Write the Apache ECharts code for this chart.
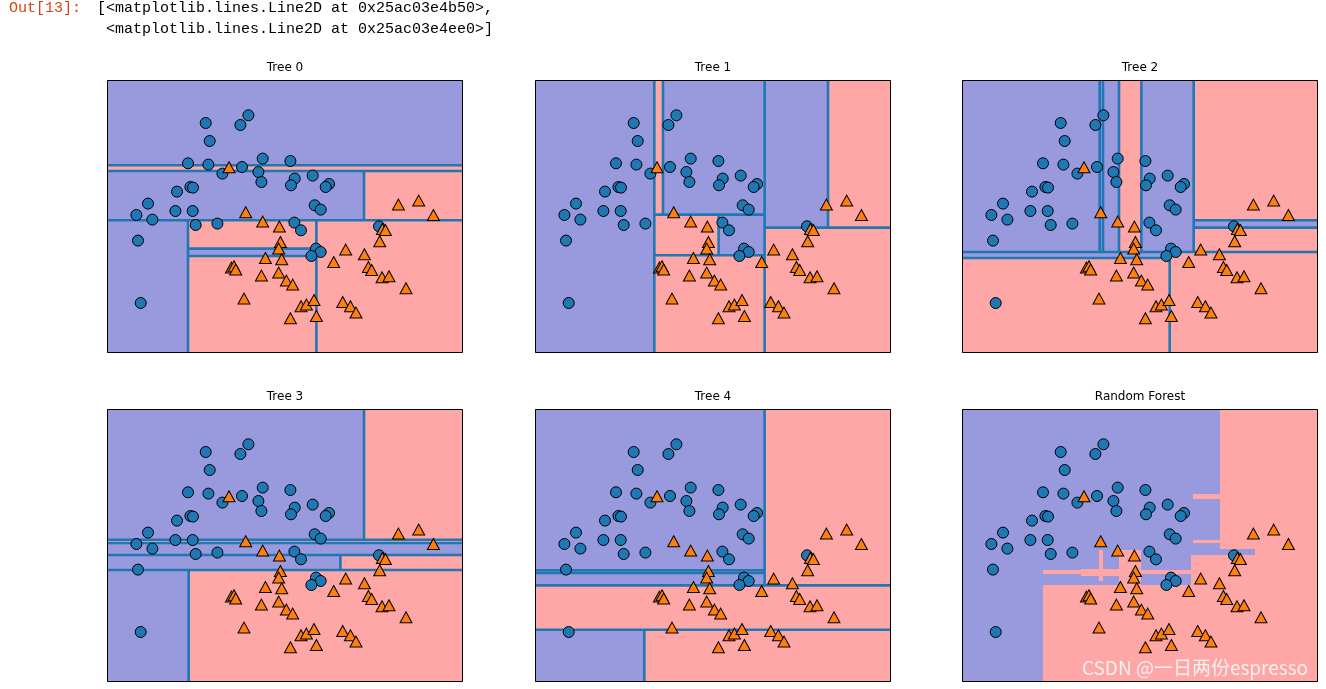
<!DOCTYPE html>
<html><head><meta charset="utf-8">
<script src="https://cdn.jsdelivr.net/npm/echarts@6/dist/echarts.min.js"></script>
<style>html,body{margin:0;padding:0;background:#fff}#c{width:1326px;height:689px}</style>
</head><body><div id="c"></div><script>
// Training points (panel data units: x 0..356, y 0..273)
const circleX = [98.7,133.4,141.4,102.7,81.0,101.4,115.4,135.0,155.7,151.4,154.4,183.4,187.7,184.0,205.7,222.0,218.7,70.0,83.4,86.0,41.0,29.4,45.4,68.4,85.7,88.7,110.4,207.7,213.7,187.4,194.0,31.0,33.7,272.0,209.0,213.7,204.4];
const circleY = [230.0,228.0,237.7,212.0,189.7,188.4,179.4,186.0,194.4,181.0,171.0,192.0,174.4,167.7,177.4,169.0,166.0,161.4,166.0,165.4,149.4,138.0,133.4,142.0,142.0,128.0,129.4,147.7,143.4,130.4,122.7,112.4,50.0,126.7,104.4,101.0,97.0];
const triX = [122.0,138.7,155.7,172.4,173.4,171.7,158.4,174.7,124.4,127.0,128.7,154.4,171.7,179.4,185.7,137.0,183.4,194.0,199.4,207.0,209.4,226.7,238.7,257.4,261.4,264.7,275.0,282.0,299.0,235.7,243.4,249.0,272.7,275.4,278.4,291.4,311.7,326.4];
const triY = [185.7,140.7,131.4,126.4,111.0,104.4,95.0,93.7,85.4,86.7,83.4,77.4,80.4,72.4,68.4,54.4,34.7,46.7,48.4,53.0,37.0,91.0,103.4,98.7,86.0,83.0,75.7,76.7,64.7,51.0,46.7,40.4,111.7,124.0,123.0,148.4,152.4,138.0];

// Regions: [x0, x1, y0, y1, class]
const tree0Regions = [[0,356,187.7,273,0],[0,356,182,187.7,1],[0,257,132.7,182,0],[257,356,132.7,182,1],[0,81,0,132.7,0],[81,209.4,104.4,132.7,1],[81,209.4,97,104.4,0],[81,209.4,0,97,1],[209.4,356,0,132.7,1]];
const tree0Splits = [[0,187.7,356,187.7],[0,182,356,182],[257,132.7,257,182],[0,132.7,356,132.7],[81,0,81,132.7],[209.4,0,209.4,132.7],[81,104.4,209.4,104.4],[81,97,209.4,97]];

const tree1Regions = [[0,119.3,0,273,0],[119.3,128,138.4,273,1],[128,229.6,138.4,273,0],[119.3,183.6,97.7,138.4,1],[183.6,229.6,97.7,138.4,0],[119.3,229.6,0,97.7,1],[229.6,293,125.4,273,0],[293,356,125.4,273,1],[229.6,356,0,125.4,1]];
const tree1Splits = [[119.3,0,119.3,273],[128,138.4,128,273],[229.6,0,229.6,273],[293,125.4,293,273],[229.6,125.4,356,125.4],[119.3,138.4,229.6,138.4],[119.3,97.7,229.6,97.7],[183.6,97.7,183.6,138.4]];

const tree2Regions = [[0,157,101,273,0],[157,179.4,101,273,1],[179.4,231.7,101,273,0],[231.7,356,132.7,273,1],[231.7,356,125.4,132.7,0],[231.7,356,101,125.4,1],[0,207.7,95,101,0],[0,207.7,0,95,1],[207.7,356,0,101,1]];
const tree2Splits = [[137.7,101,137.7,273],[141,101,141,273],[157,101,157,273],[179.4,101,179.4,273],[231.7,101,231.7,273],[231.7,132.7,356,132.7],[231.7,125.4,356,125.4],[0,101,356,101],[0,95,207.7,95],[207.7,0,207.7,101]];

const tree3Regions = [[0,257,142.3,273,0],[257,356,142.3,273,1],[0,356,139,142.3,1],[0,356,127,139,0],[0,233.4,112,127,0],[233.4,356,112,127,1],[0,81.7,0,112,0],[81.7,356,0,112,1]];
const tree3Splits = [[257,142.3,257,273],[0,142.3,356,142.3],[0,139,356,139],[0,127,356,127],[233.4,112,233.4,127],[0,112,356,112],[81.7,0,81.7,112]];

const tree4Regions = [[0,229.6,111.6,273,0],[0,229.6,109,111.6,1],[0,229.6,96.6,109,0],[229.6,356,96.6,273,1],[0,356,52.3,96.6,1],[0,109.3,0,52.3,0],[109.3,356,0,52.3,1]];
const tree4Splits = [[229.6,96.6,229.6,273],[0,111.6,229.6,111.6],[0,109,229.6,109],[0,96.6,356,96.6],[0,52.3,356,52.3],[109.3,0,109.3,52.3]];

const forestRegions = [[0,356,0,273,0],[257.7,356,133.3,273,1],[231.4,257.7,183.3,188,1],[231.4,257.7,139,142.3,1],[292.7,356,126.6,133.3,1],[229.4,356,97.3,126.6,1],[81,356,0,97.3,1],[157,179.4,97.3,132.3,1],[81,229.4,107.6,111.6,1],[119.4,157,105.6,113,1],[137,141,100.6,132.3,1]];
const forestSplits = [];

const panelTitles = ['Tree 0','Tree 1','Tree 2','Tree 3','Tree 4','Random Forest'];
const headerLines = ['[<matplotlib.lines.Line2D at 0x25ac03e4b50>,', ' <matplotlib.lines.Line2D at 0x25ac03e4ee0>]'];

const BLUE_REGION = '#9999dd', RED_REGION = '#ffa6a6', SPLIT = '#1f77b4';
const PW = 356, PH = 273;
const panels = [
  {regions: tree0Regions, splits: tree0Splits, left: 107, top: 80},
  {regions: tree1Regions, splits: tree1Splits, left: 535, top: 80},
  {regions: tree2Regions, splits: tree2Splits, left: 962, top: 80},
  {regions: tree3Regions, splits: tree3Splits, left: 107, top: 409},
  {regions: tree4Regions, splits: tree4Splits, left: 535, top: 409},
  {regions: forestRegions, splits: forestSplits, left: 962, top: 409}
];

function regionItem(params, api) {
  const a = api.coord([api.value(0), api.value(3)]);
  const b = api.coord([api.value(1), api.value(2)]);
  const x0 = Math.round(a[0]), y0 = Math.round(a[1]), x1 = Math.round(b[0]), y1 = Math.round(b[1]);
  return {type: 'rect', shape: {x: x0, y: y0, width: x1 - x0, height: y1 - y0},
    style: {fill: api.value(4) === 1 ? RED_REGION : BLUE_REGION}};
}
function splitItem(params, api) {
  const a = api.coord([api.value(0), api.value(1)]);
  const b = api.coord([api.value(2), api.value(3)]);
  return {type: 'line', shape: {x1: a[0], y1: a[1], x2: b[0], y2: b[1]},
    style: {stroke: SPLIT, lineWidth: 2.6}};
}
function frameItem(params, api) {
  const a = api.coord([api.value(0), api.value(3)]);
  const b = api.coord([api.value(1), api.value(2)]);
  return {type: 'rect', shape: {x: a[0] + 0.5, y: a[1] + 0.5, width: b[0] - a[0] - 1, height: b[1] - a[1] - 1},
    style: {fill: 'none', stroke: '#000', lineWidth: 1}};
}

const circles = circleX.map((x, i) => [x, circleY[i]]);
const tris = triX.map((x, i) => [x, triY[i]]);

const option = {animation: false, backgroundColor: '#fff', grid: [], xAxis: [], yAxis: [], series: [], graphic: []};
panels.forEach((p, i) => {
  option.grid.push({left: p.left, top: p.top, width: PW, height: PH, show: false});
  option.xAxis.push({type: 'value', gridIndex: i, min: 0, max: PW, show: false});
  option.yAxis.push({type: 'value', gridIndex: i, min: 0, max: PH, show: false});
  option.series.push({type: 'custom', xAxisIndex: i, yAxisIndex: i, data: p.regions,
    encode: {x: [0, 1], y: [2, 3]}, renderItem: regionItem, z: 1, silent: true, clip: true});
  if (p.splits.length) option.series.push({type: 'custom', xAxisIndex: i, yAxisIndex: i, data: p.splits,
    encode: {x: [0, 2], y: [1, 3]}, renderItem: splitItem, z: 2, silent: true, clip: true});
  option.series.push({type: 'scatter', xAxisIndex: i, yAxisIndex: i, data: circles, symbol: 'circle', symbolSize: 11,
    itemStyle: {color: '#1f77b4', borderColor: '#000', borderWidth: 1, opacity: 1}, z: 3, silent: true});
  option.series.push({type: 'scatter', xAxisIndex: i, yAxisIndex: i, data: tris, symbol: 'triangle', symbolSize: [12, 11],
    itemStyle: {color: '#ff7f0e', borderColor: '#000', borderWidth: 1, opacity: 1}, z: 4, silent: true});
  option.series.push({type: 'custom', xAxisIndex: i, yAxisIndex: i, data: [[0, PW, 0, PH]],
    encode: {x: [0, 1], y: [2, 3]}, renderItem: frameItem, z: 5, silent: true, clip: false});
  option.graphic.push({type: 'text', x: p.left + PW / 2, y: p.top - 12, z: 10,
    style: {text: panelTitles[i], font: '12px "DejaVu Sans"', fill: '#000', align: 'center', verticalAlign: 'middle', textAlign: 'center', textVerticalAlign: 'middle'}});
});

option.graphic.push({type: 'text', x: 9, y: 8, z: 10,
  style: {text: 'Out[13]:', font: '15px "Liberation Mono"', fill: '#d84315', align: 'left', verticalAlign: 'middle', textAlign: 'left', textVerticalAlign: 'middle'}});
headerLines.forEach((t, k) => {
  option.graphic.push({type: 'text', x: 97, y: 8 + 21 * k, z: 10,
    style: {text: t, font: '15px "Liberation Mono"', fill: '#000', align: 'left', verticalAlign: 'middle', textAlign: 'left', textVerticalAlign: 'middle'}});
});
option.graphic.push({type: 'text', x: 1195, y: 668, z: 20,
  style: {text: 'CSDN @一日两份espresso', font: '19px "Noto Sans CJK SC"', fill: 'rgba(250,250,250,0.88)',
    align: 'center', verticalAlign: 'middle', textAlign: 'center', textVerticalAlign: 'middle',
    shadowColor: 'rgba(0,0,0,0.6)', shadowBlur: 2, shadowOffsetX: 1, shadowOffsetY: 1}});

const chart = echarts.init(document.getElementById('c'), null, {renderer: 'canvas'});
chart.setOption(option);
</script></body></html>
